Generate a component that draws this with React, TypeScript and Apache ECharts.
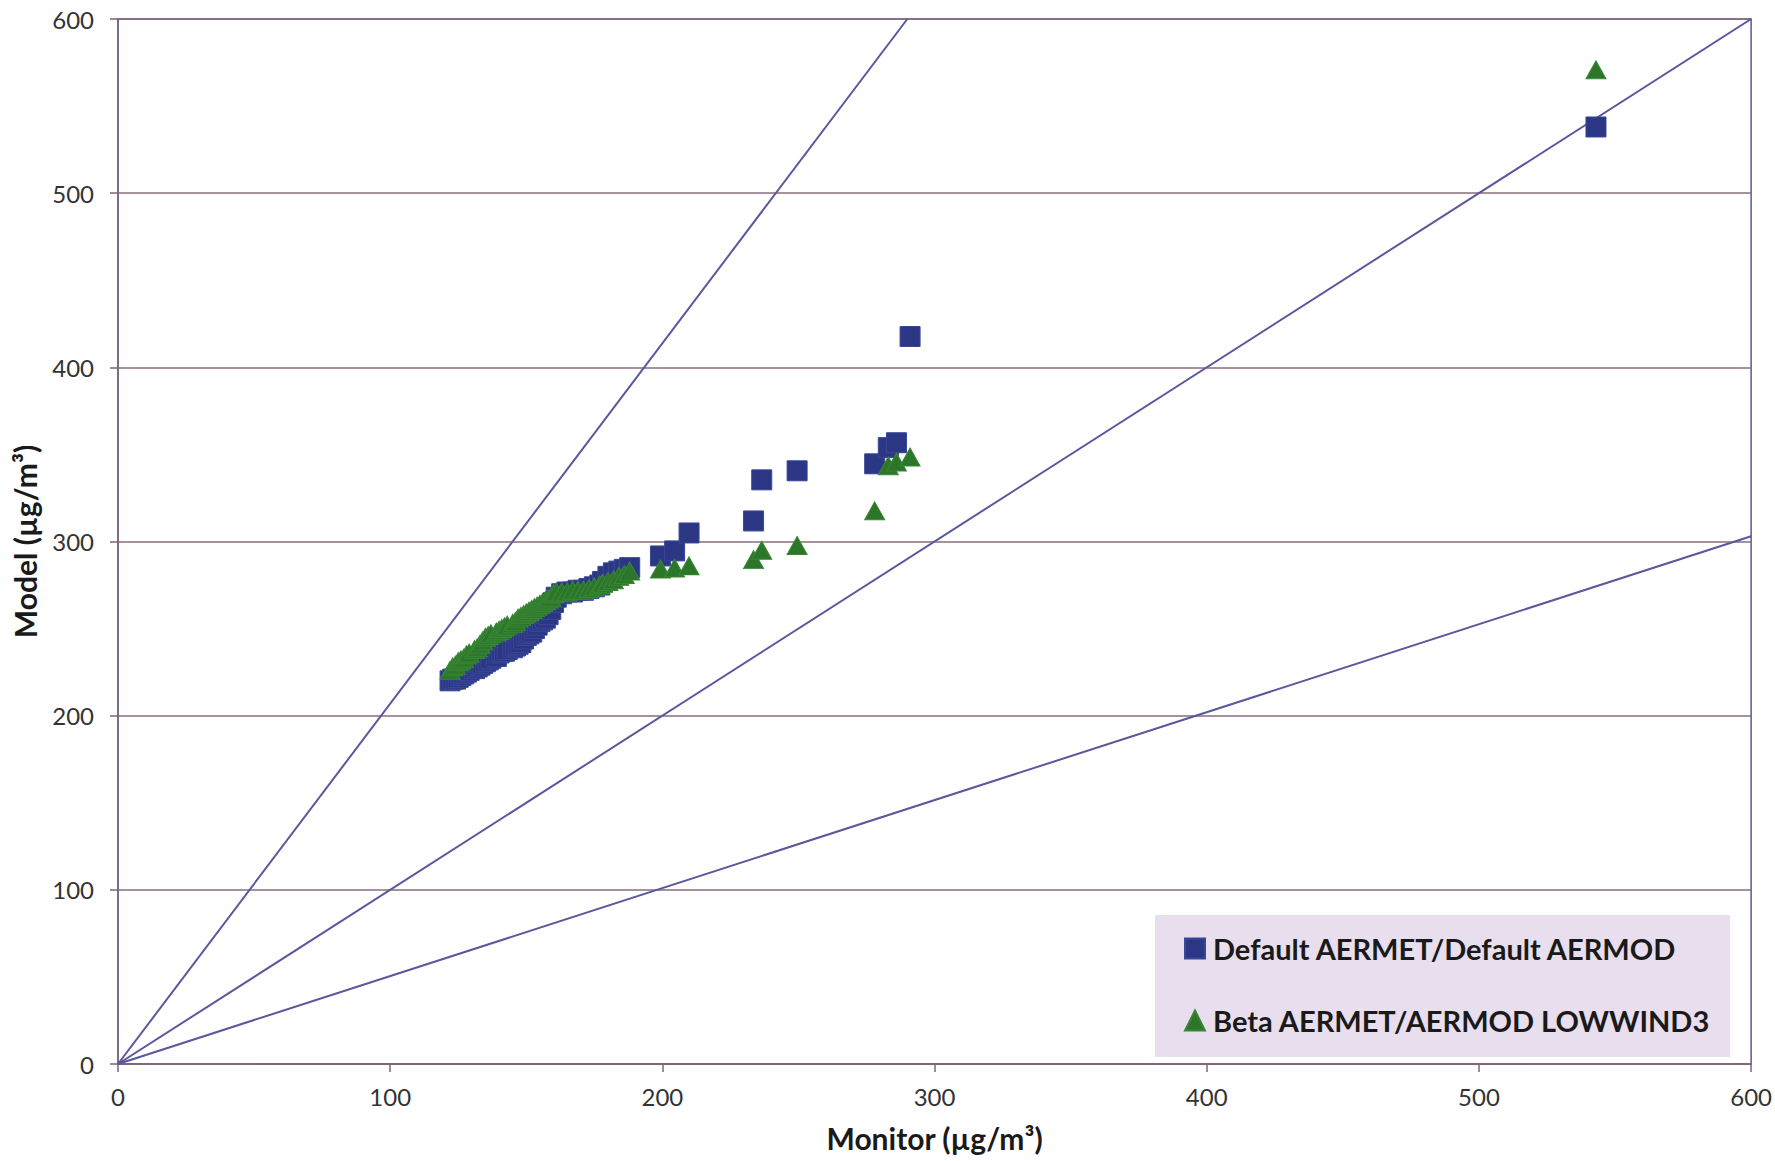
import React, { useEffect, useRef } from "react";
import * as echarts from "echarts";

// Ranked monitor concentrations (shared x for both model runs), µg/m³
const monitor = [
  122, 123, 124, 125, 126, 127, 128, 129, 131, 132, 133, 134, 135, 136, 137, 139, 140, 141, 142, 143,
  145, 146, 147, 148, 149, 150, 151, 152, 153, 154, 155, 156, 157, 158, 159, 160, 161, 163, 165, 167,
  169, 171, 173, 175, 177, 178, 180, 182, 184, 186, 188, 199.3, 204.5, 209.8, 233.5, 236.5, 249.5,
  278, 283, 286, 291, 543,
];

// Ranked model concentrations, Default AERMET/Default AERMOD
const defaultModel = [
  220, 221, 221, 222, 223, 224, 225, 226, 227, 228, 229, 230, 231, 232, 233, 234, 236, 237, 237, 238,
  239, 240, 241, 242, 244, 246, 247, 248, 250, 252, 254, 255, 256, 258, 261, 265, 268, 270, 271, 271,
  272, 272, 273, 274, 275, 277, 280, 282, 283, 284, 285, 291.7, 294.6, 304.9, 311.8, 335.4, 340.6,
  344.6, 353.9, 356.7, 417.7, 538,
];

// Ranked model concentrations, Beta AERMET/AERMOD LOWWIND3
const betaModel = [
  226, 228, 229, 231, 232, 233, 235, 236, 238, 239, 241, 243, 245, 246, 247, 248, 249, 250, 251, 252,
  253, 254, 256, 257, 258, 259, 260, 261, 262, 263, 264, 265, 266, 267, 268, 270, 271, 271, 271, 272,
  272, 272, 273, 274, 275, 276, 277, 278, 280, 281, 283, 284.2, 284.8, 286, 289.6, 295, 297.7,
  317.6, 343.5, 345.6, 348.5, 570.8,
];

// Factor-of-two and 1:1 guide lines (end points)
const guideSteep = [[0, 0], [290, 600]];
const guideOneToOne = [[0, 0], [600, 600]];
const guideHalf = [[0, 0], [600, 303]];

const axisTicks = [0, 100, 200, 300, 400, 500, 600];

const seriesNames = ["Default AERMET/Default AERMOD", "Beta AERMET/AERMOD LOWWIND3"];

const FONT = "Lato";

export default function App() {
  const ref = useRef<HTMLDivElement>(null);

  useEffect(() => {
    if (!ref.current) return;
    const chart = echarts.init(ref.current, undefined, { renderer: "svg" });

    const guideLine = (data: number[][]) => ({
      type: "line",
      data,
      symbol: "none",
      silent: true,
      z: 1,
      lineStyle: { color: "#5a579c", width: 2 },
    });

    const axisCommon = {
      type: "value",
      min: axisTicks[0],
      max: axisTicks[axisTicks.length - 1],
      interval: 100,
      axisLine: { show: true, lineStyle: { color: "#7d6474", width: 1.5 } },
      axisTick: { show: true, inside: false, length: 8, lineStyle: { color: "#7d6474", width: 1.5 } },
      axisLabel: { color: "#333333", fontSize: 24, fontFamily: FONT },
      nameTextStyle: { color: "#1a1a1a", fontSize: 30, fontWeight: "bold", fontFamily: FONT },
    };

    chart.setOption({
      animation: false,
      backgroundColor: "#ffffff",
      grid: {
        left: 118,
        right: 23,
        top: 19,
        bottom: 97,
        show: true,
        borderColor: "#5c5894",
        borderWidth: 1.5,
        backgroundColor: "transparent",
      },
      xAxis: {
        ...axisCommon,
        name: "Monitor (µg/m³)",
        nameLocation: "middle",
        nameGap: 59,
        splitLine: { show: false },
        axisLabel: { ...axisCommon.axisLabel, margin: 20 },
      },
      yAxis: {
        ...axisCommon,
        name: "Model (µg/m³)",
        nameLocation: "middle",
        nameGap: 78,
        splitLine: { show: true, lineStyle: { color: "#8a6c7c", width: 1.5 } },
        axisLabel: { ...axisCommon.axisLabel, margin: 24 },
      },
      legend: {
        orient: "vertical",
        left: 1155,
        top: 915,
        padding: [19, 20, 22, 29],
        itemGap: 43,
        itemWidth: 20,
        itemHeight: 20,
        backgroundColor: "#e9deed",
        textStyle: {
          color: "#1a1a1a",
          fontSize: 29,
          fontWeight: "bold",
          fontFamily: FONT,
          padding: [0, 0, 0, 3],
        },
        data: [
          { name: seriesNames[0], icon: "rect" },
          { name: seriesNames[1], icon: "triangle" },
        ],
      },
      series: [
        guideLine(guideSteep),
        guideLine(guideOneToOne),
        guideLine(guideHalf),
        {
          name: seriesNames[0],
          type: "scatter",
          z: 3,
          symbol: "rect",
          symbolSize: 20,
          itemStyle: { color: "#2b3784", borderColor: "#3a4798", borderWidth: 1, opacity: 1 },
          data: monitor.map((m, i) => [m, defaultModel[i]]),
        },
        {
          name: seriesNames[1],
          type: "scatter",
          z: 4,
          symbol: "triangle",
          symbolSize: [20, 18],
          itemStyle: { color: "#2b7629", borderColor: "#3a8636", borderWidth: 1, opacity: 1 },
          data: monitor.map((m, i) => [m, betaModel[i]]),
        },
      ],
    });

    return () => chart.dispose();
  }, []);

  return (
    <div
      ref={ref}
      style={{ position: "absolute", left: 0, top: 0, width: 1775, height: 1161, background: "#fff" }}
    />
  );
}
